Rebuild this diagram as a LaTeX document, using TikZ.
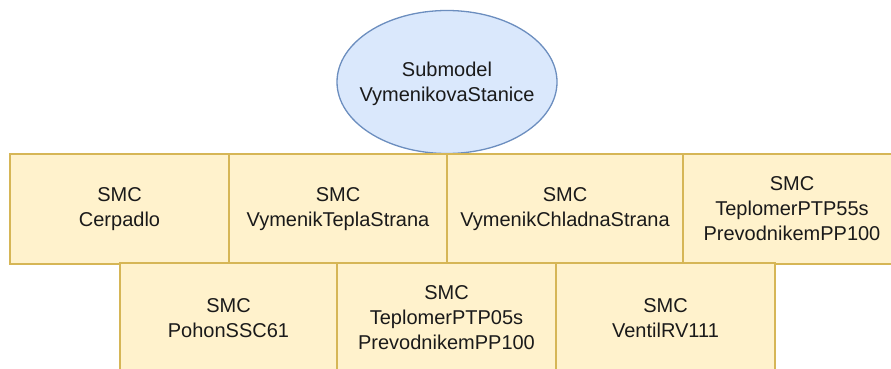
\documentclass[tikz,border=0pt]{standalone}
\usepackage{fontspec}
\setmainfont{Liberation Sans}
\definecolor{ebfill}{HTML}{DAE8FC}
\definecolor{ebdraw}{HTML}{6C8EBF}
\definecolor{bxfill}{HTML}{FFF2CC}
\definecolor{bxdraw}{HTML}{D6B656}
\definecolor{txt}{HTML}{1A1A1A}
\begin{document}
\begin{tikzpicture}[x=1pt,y=-1pt,
  lbl/.style={align=center,font=\fontsize{20}{25}\selectfont,text=txt},
  ellpath/.style={draw=ebdraw,fill=ebfill,line width=1.3pt},
  smcbox/.style={lbl,rectangle,draw=bxdraw,fill=bxfill,line width=1.3pt,inner sep=0pt,outer sep=0pt,minimum height=110pt,anchor=north west}]
\useasboundingbox (0,0) rectangle (891,369);
\clip (0,0) rectangle (891,369);
\fill[white] (0,0) rectangle (891,369);
\path[ellpath] (447,82) ellipse [x radius=110, y radius=71.5];
\node[lbl] (sub) at (447,84) {Submodel\\VymenikovaStanice};
\node[smcbox,minimum width=219pt] (c1) at (10,154) {SMC\\Cerpadlo};
\node[smcbox,minimum width=218pt] (c2) at (229,154) {SMC\\VymenikTeplaStrana};
\node[smcbox,minimum width=236pt] (c3) at (447,154) {SMC\\VymenikChladnaStrana};
\node[smcbox,minimum width=218pt] (c4) at (683,154) {SMC\\TeplomerPTP55s\\PrevodnikemPP100};
\node[smcbox,minimum width=217pt] (c5) at (120,263) {SMC\\PohonSSC61};
\node[smcbox,minimum width=219pt] (c6) at (337,263) {SMC\\TeplomerPTP05s\\PrevodnikemPP100};
\node[smcbox,minimum width=219pt] (c7) at (556,263) {SMC\\VentilRV111};
\end{tikzpicture}
\end{document}
